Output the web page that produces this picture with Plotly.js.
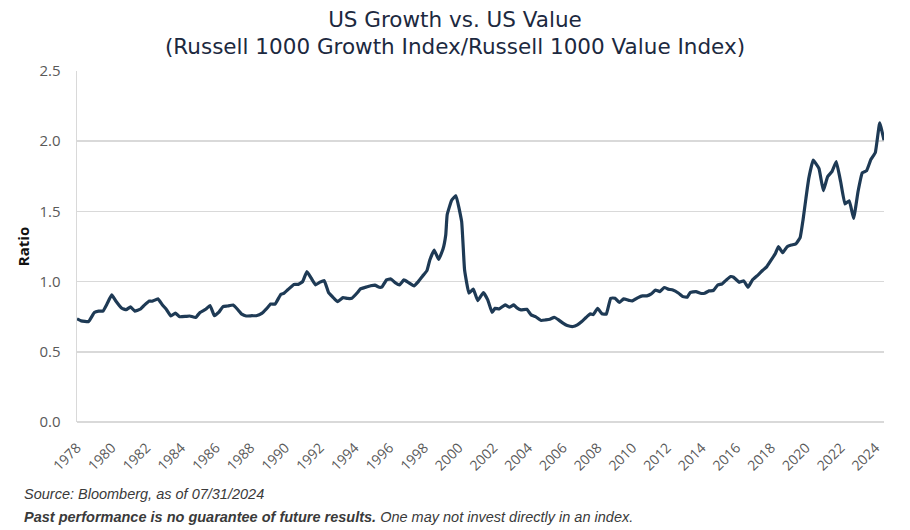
<!DOCTYPE html>
<html>
<head>
<meta charset="utf-8">
<script src="https://cdn.plot.ly/plotly-3.0.1.min.js"></script>
<style>html,body{margin:0;padding:0;background:#fff;}#chart{width:910px;height:530px;}</style>
</head>
<body>
<div id="chart"></div>
<script>
// Russell 1000 Growth / Russell 1000 Value ratio
const dates = [
"1978-01","1978-04","1978-09","1979-01","1979-04","1979-07","1979-10","1980-01","1980-04","1980-08","1980-11",
"1981-02","1981-05","1981-09","1981-11","1982-03","1982-05","1982-09","1982-12","1983-03","1983-06","1983-09","1983-12",
"1984-04","1984-07","1984-11","1985-02","1985-06","1985-09","1985-12","1986-03","1986-06","1986-09","1987-01","1987-04",
"1987-07","1987-10","1988-02","1988-05","1988-09","1988-12","1989-03","1989-06","1989-10","1989-12","1990-03","1990-07",
"1990-10","1991-01","1991-04","1991-07","1991-10","1992-01","1992-04","1992-07","1992-10","1993-01","1993-05","1993-08",
"1993-11","1994-03","1994-05","1994-08","1994-12","1995-03","1995-06","1995-08","1995-11","1996-02","1996-05","1996-08",
"1996-11","1997-02","1997-06","1997-09","1997-12","1998-03","1998-05","1998-08","1998-11","1999-02","1999-04","1999-05",
"1999-08","1999-11","2000-03","2000-05","2000-08","2000-11","2001-02","2001-06","2001-09","2001-12","2002-02","2002-05",
"2002-09","2002-12","2003-03","2003-05","2003-08","2003-12","2004-03","2004-06","2004-10","2005-01","2005-04","2005-07",
"2005-10","2006-01","2006-04","2006-08","2006-11","2007-02","2007-05","2007-08","2007-10","2008-01","2008-04","2008-07",
"2008-10","2009-01","2009-04","2009-07","2009-11","2010-01","2010-05","2010-08","2010-11","2011-02","2011-05","2011-08",
"2011-11","2012-02","2012-05","2012-09","2012-12","2013-03","2013-05","2013-09","2013-12","2014-03","2014-06","2014-09",
"2014-12","2015-03","2015-06","2015-09","2015-11","2016-03","2016-06","2016-09","2016-12","2017-04","2017-07","2017-10",
"2018-01","2018-04","2018-06","2018-09","2018-12","2019-03","2019-06","2019-09","2019-11","2020-01","2020-03","2020-06",
"2020-10","2021-01","2021-04","2021-07","2021-10","2022-01","2022-04","2022-07","2022-10","2023-01","2023-04","2023-07",
"2023-10","2024-01","2024-04","2024-07"
];
const ratio = [
0.735,0.72,0.715,0.78,0.79,0.79,0.845,0.905,0.86,0.81,0.80,
0.82,0.79,0.805,0.826,0.862,0.86,0.877,0.835,0.80,0.755,0.775,0.75,
0.752,0.755,0.744,0.78,0.803,0.83,0.757,0.78,0.822,0.826,0.833,0.803,
0.768,0.755,0.757,0.757,0.775,0.806,0.84,0.84,0.91,0.916,0.944,0.98,
0.98,1.0,1.071,1.024,0.977,0.996,1.007,0.922,0.888,0.857,0.886,0.88,
0.881,0.922,0.948,0.958,0.97,0.975,0.96,0.963,1.012,1.019,0.993,0.977,
1.012,0.995,0.97,1.0,1.04,1.078,1.154,1.225,1.158,1.23,1.332,1.476,
1.578,1.612,1.427,1.084,0.918,0.946,0.865,0.922,0.87,0.78,0.81,0.806,
0.834,0.818,0.834,0.815,0.799,0.803,0.763,0.751,0.723,0.727,0.732,0.746,
0.727,0.704,0.687,0.68,0.692,0.716,0.744,0.77,0.765,0.81,0.77,0.768,
0.882,0.882,0.851,0.877,0.865,0.863,0.886,0.898,0.898,0.912,0.94,0.929,
0.958,0.946,0.94,0.917,0.893,0.889,0.922,0.929,0.917,0.917,0.934,0.936,
0.976,0.983,1.012,1.036,1.031,0.995,1.005,0.96,1.012,1.048,1.079,1.107,
1.154,1.202,1.249,1.206,1.249,1.261,1.268,1.313,1.439,1.593,1.735,1.865,
1.806,1.647,1.747,1.783,1.854,1.711,1.553,1.576,1.45,1.64,1.775,1.79,
1.871,1.92,2.131,2.007
];
const titleLines = ["US Growth vs. US Value", "(Russell 1000 Growth Index/Russell 1000 Value Index)"];
const yTitle = "Ratio";
const sourceNote = "Source: Bloomberg, as of 07/31/2024";
const disclaimerBold = "Past performance is no guarantee of future results.";
const disclaimerRest = " One may not invest directly in an index.";

const trace = {
  x: dates, y: ratio, type: "scatter", mode: "lines",
  line: {color: "#1e3a55", width: 3.2, shape: "spline", smoothing: 0.3},
  hoverinfo: "x+y"
};

const noteFont = {family: "Liberation Sans Narrow, Arial Narrow, Liberation Sans, Arial", size: 14.5, color: "#3a3a3a"};

const layout = {
  width: 910, height: 530,
  margin: {l: 77, r: 26, t: 71, b: 108},
  paper_bgcolor: "#ffffff", plot_bgcolor: "#ffffff",
  showlegend: false,
  title: {
    text: titleLines.join("<br>"),
    xref: "container", x: 0.5, xanchor: "center",
    yref: "container", y: 0.95, yanchor: "bottom",
    font: {family: "DejaVu Sans, sans-serif", size: 21.5, color: "#1c2940"}
  },
  xaxis: {
    type: "date",
    range: [dates[0], dates[dates.length - 1]],
    tick0: "1978-01-01", dtick: "M24", tickformat: "%Y",
    tickangle: -45,
    showgrid: false, zeroline: false,
    showline: false, ticks: "",
    ticklabelstandoff: 14,
    tickfont: {family: "Open Sans, sans-serif", size: 14, color: "#595959"}
  },
  yaxis: {
    range: [0, 2.5], dtick: 0.5, tickformat: ".1f",
    showgrid: true, gridcolor: "#d9d9d9", gridwidth: 1.5,
    zeroline: true, zerolinecolor: "#d9d9d9", zerolinewidth: 1.5,
    showline: true, linecolor: "#d9d9d9", linewidth: 1.5,
    ticks: "", ticklabelstandoff: 12,
    tickfont: {family: "Open Sans, sans-serif", size: 15, color: "#595959"},
    title: {text: "<b>" + yTitle + "</b>", standoff: 6,
      font: {family: "Open Sans, sans-serif", size: 15, color: "#111111"}}
  },
  annotations: [
    {xref: "paper", yref: "paper", x: -0.068, y: -0.178, xanchor: "left", yanchor: "top",
     showarrow: false, align: "left", text: "<i>" + sourceNote + "</i>", font: noteFont},
    {xref: "paper", yref: "paper", x: -0.068, y: -0.243, xanchor: "left", yanchor: "top",
     showarrow: false, align: "left",
     text: "<b><i>" + disclaimerBold + "</i></b><i>" + disclaimerRest + "</i>", font: noteFont}
  ]
};

Plotly.newPlot("chart", [trace], layout, {displayModeBar: false, staticPlot: true});
</script>
</body>
</html>
